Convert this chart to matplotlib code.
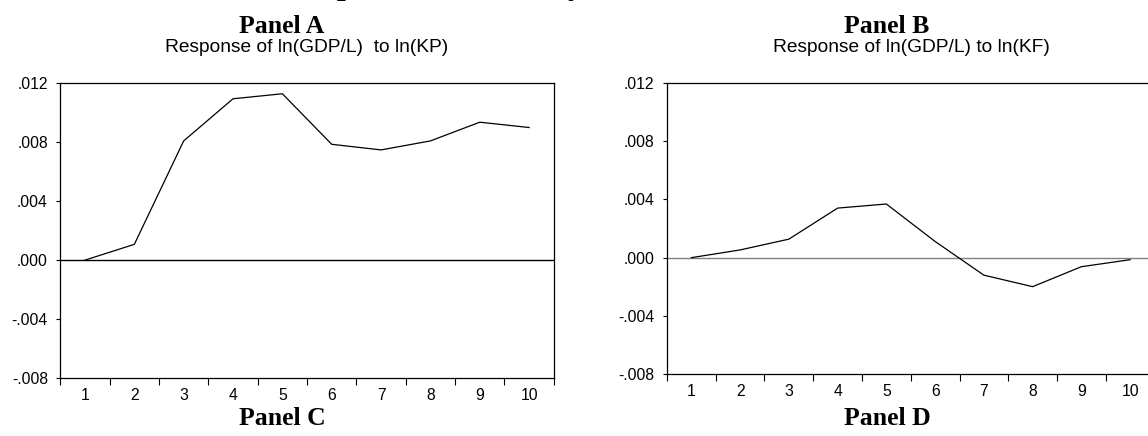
"""
Impulse responses of ln(GDP/L) to public (KP) and foreign (KF) capital,
EViews-style panels (top row of the figure).
"""

import numpy as np
import matplotlib.pyplot as plt
from matplotlib.ticker import FixedLocator, FuncFormatter, NullFormatter


periodos = [1, 2, 3, 4, 5, 6, 7, 8, 9, 10]
resp_kp = [0.0, 0.00107, 0.00809, 0.01095, 0.01129,
           0.00786, 0.00748, 0.00809, 0.00936, 0.00900]
resp_kf = [0.0, 0.00053, 0.00127, 0.00340, 0.00368,
           0.00111, -0.00120, -0.00199, -0.00062, -0.00014]
yticks = [-0.008, -0.004, 0.0, 0.004, 0.008, 0.012]

titulo = "Response to Cholesky One S.D. Innovations"
paneles = ["Panel A", "Panel B"]
paneles_abajo = ["Panel C", "Panel D"]
subtitulos = ["Response of ln(GDP/L)  to ln(KP)",
              "Response of ln(GDP/L) to ln(KF)"]

W, H = 1148, 436
SANS = "Liberation Sans"
SERIF = "Liberation Serif"


def fmt_eviews(v, _pos=None):
    s = f"{v:.3f}"
    return s.replace("0.", ".", 1)


def panel(fig, rect, x, y, color_cero):
    ax = fig.add_axes(rect)
    ax.plot(x, y, color="black", lw=0.9)
    ax.axhline(0, color=color_cero, lw=1.0, zorder=1)
    ax.set_xlim(0.5, 10.5)
    ax.set_ylim(-0.008, 0.012)

    # marks between categories, labels at the centres
    ax.xaxis.set_major_locator(FixedLocator(np.arange(0.5, 11, 1.0)))
    ax.xaxis.set_major_formatter(NullFormatter())
    ax.xaxis.set_minor_locator(FixedLocator(x))
    ax.xaxis.set_minor_formatter(FuncFormatter(lambda v, p: f"{int(v)}"))
    ax.tick_params(axis="x", which="major", length=5, width=0.8,
                   direction="out")
    ax.tick_params(axis="x", which="minor", length=0, pad=7,
                   labelsize=11.3)

    ax.set_yticks(yticks)
    ax.yaxis.set_major_formatter(FuncFormatter(fmt_eviews))
    ax.tick_params(axis="y", length=3, width=0.8, pad=6, labelsize=11.3)

    for lab in ax.get_xticklabels(minor=True) + ax.get_yticklabels():
        lab.set_family(SANS)
    for s in ax.spines.values():
        s.set_linewidth(0.9)
    return ax


fig = plt.figure(figsize=(W / 100, H / 100), dpi=100)

rects = [
    [60.3 / W, 1 - 378 / H, 493.5 / W, 294.7 / H],
    [667 / W, 1 - 374.3 / H, 487.5 / W, 291.6 / H],
]
panel(fig, rects[0], periodos, resp_kp, "black")
panel(fig, rects[1], periodos, resp_kf, "#808080")

# title of the whole figure, cut at the top edge
fig.text(585 / W, 1 + 6 / H, titulo, ha="center", va="baseline",
         family=SERIF, fontweight="bold", fontsize=23)

cx_label = [282 / W, 887 / W]
cx_sub = [307 / W, 911 / W]
for i in range(2):
    fig.text(cx_label[i], 1 - 33 / H, paneles[i], ha="center",
             va="baseline", family=SERIF, fontweight="bold", fontsize=18.5)
    fig.text(cx_sub[i], 1 - 52 / H, subtitulos[i], ha="center",
             va="baseline", family=SANS, fontsize=13.8)
    fig.text(cx_label[i], 1 - 425 / H, paneles_abajo[i], ha="center",
             va="baseline", family=SERIF, fontweight="bold", fontsize=18.5)

fig.savefig("out.png", dpi=100)
